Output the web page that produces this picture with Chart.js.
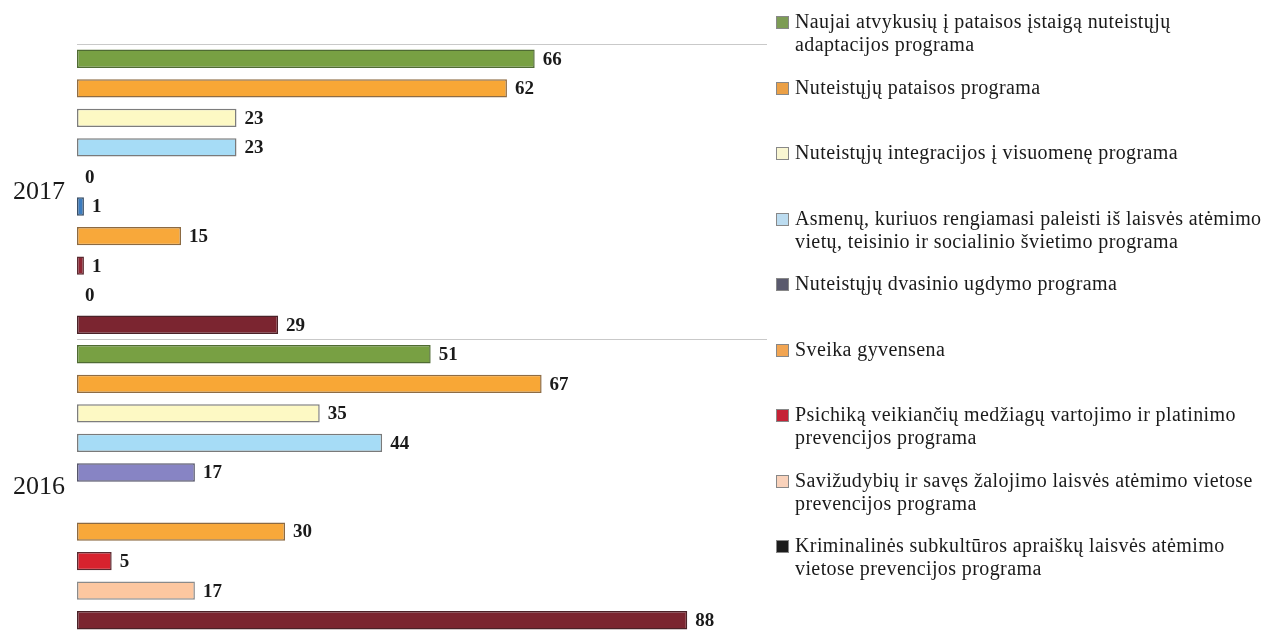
<!DOCTYPE html>
<html lang="lt">
<head>
<meta charset="UTF-8">
<title>Programos 2016–2017</title>
<script src="https://cdn.jsdelivr.net/npm/chart.js"></script>
<style>
  html, body { margin: 0; padding: 0; background: #fff; }
  .wrap { position: relative; width: 1270px; height: 635px; }
  .chart-box { position: absolute; left: 0; top: 0; width: 800px; height: 635px; }
  #legend { position: absolute; left: 775px; top: 0; width: 495px; margin: 0; padding: 0; list-style: none;
            font-family: 'Liberation Serif', 'Times New Roman', serif; font-size: 20px; letter-spacing: 0.4px; color: #1a1a1a; }
  #legend li { position: absolute; left: 0; width: 495px; line-height: 23px; padding-left: 20px; box-sizing: border-box; white-space: nowrap; }
  #legend li span.sw { position: absolute; left: 1px; top: 6px; width: 11px; height: 11px; border: 1px solid #888; }
</style>
</head>
<body>
<div class="wrap">
  <div class="chart-box"><canvas id="progChart"></canvas></div>
  <ul id="legend"></ul>
</div>

<script>
// years on the axis
const years = ['2017', '2016'];

// one value per year for each programme (null = nothing drawn)
const adaptacija   = [66, 51];
const pataisa      = [62, 67];
const integracija  = [23, 35];
const svietimas    = [23, 44];
const dvasinis     = [0, 17];
const kita         = [1, null];   // bar without a legend entry
const sveikata     = [15, 30];
const psichika     = [1, 5];
const savizudybes  = [0, 17];
const subkultura   = [29, 88];

// legend texts, split into lines as in the original (the unlabelled series has none)
const legendNames = [
  ['Naujai atvykusių į pataisos įstaigą nuteistųjų', 'adaptacijos programa'],
  ['Nuteistųjų pataisos programa'],
  ['Nuteistųjų integracijos į visuomenę programa'],
  ['Asmenų, kuriuos rengiamasi paleisti iš laisvės atėmimo', 'vietų, teisinio ir socialinio švietimo programa'],
  ['Nuteistųjų dvasinio ugdymo programa'],
  ['Sveika gyvensena'],
  ['Psichiką veikiančių medžiagų vartojimo ir platinimo', 'prevencijos programa'],
  ['Savižudybių ir savęs žalojimo laisvės atėmimo vietose', 'prevencijos programa'],
  ['Kriminalinės subkultūros apraiškų laisvės atėmimo', 'vietose prevencijos programa']
];
const legendColors = ['#7d9c55', '#eba046', '#f9f6d2', '#bcdcf0', '#5a5a6e', '#f2a552', '#c52236', '#f9d2bb', '#1c1c1c'];

const datasets = [
  { data: adaptacija,  backgroundColor: '#78a043', borderColor: '#4f6b33' },
  { data: pataisa,     backgroundColor: '#f8a736', borderColor: '#8e6c44' },
  { data: integracija, backgroundColor: '#fdf9c4', borderColor: '#7d7d7d' },
  { data: svietimas,   backgroundColor: '#a6dcf6', borderColor: '#7a7a7a' },
  { data: dvasinis,    backgroundColor: '#8784c4', borderColor: '#55556a' },
  { data: kita,        backgroundColor: '#3c7cbf', borderColor: '#3a4f66' },
  { data: sveikata,    backgroundColor: '#f8a83a', borderColor: '#8c6a42' },
  { data: psichika,    backgroundColor: ['#8e2634', '#d8222e'], borderColor: '#5a2a30' },
  { data: savizudybes, backgroundColor: '#fdc7a0', borderColor: '#8a8a8a' },
  { data: subkultura,  backgroundColor: '#7b2530', borderColor: '#4a2228' }
].map(d => Object.assign(d, {
  borderWidth: 1.5,
  borderSkipped: false,
  barPercentage: 0.62,
  categoryPercentage: 1
}));

// value labels right of each bar
const valueLabels = {
  id: 'valueLabels',
  afterDatasetsDraw(chart) {
    const ctx = chart.ctx;
    ctx.save();
    ctx.font = 'bold 19px "Liberation Serif", "Times New Roman", serif';
    ctx.fillStyle = '#1a1a1a';
    ctx.textBaseline = 'middle';
    chart.data.datasets.forEach((ds, i) => {
      chart.getDatasetMeta(i).data.forEach((bar, j) => {
        const v = ds.data[j];
        if (v === null || v === undefined) return;
        ctx.fillText(String(v), bar.x + 8, bar.y + 1);
      });
    });
    ctx.restore();
  }
};

Chart.defaults.font.family = '"Liberation Serif", "Times New Roman", serif';

new Chart(document.getElementById('progChart'), {
  type: 'bar',
  data: { labels: years, datasets: datasets },
  options: {
    indexAxis: 'y',
    responsive: true,
    maintainAspectRatio: false,
    animation: false,
    layout: { padding: { top: 44, right: 33, bottom: 0, left: 0 } },
    plugins: { legend: { display: false }, tooltip: { enabled: false } },
    scales: {
      x: { display: false, min: 0, max: 99.5 },
      y: {
        afterFit(scale) {
          scale.width = 77;
          scale.paddingTop = 0;
          scale.paddingBottom = 0;
        },
        border: { display: false },
        grid: { color: '#c9c9c9', lineWidth: 1, drawTicks: false, offset: true },
        ticks: { color: '#1a1a1a', padding: 12, font: { size: 26 } }
      }
    }
  },
  plugins: [valueLabels]
});

// html legend on the right
const legendEl = document.getElementById('legend');
legendNames.forEach((lines, i) => {
  const li = document.createElement('li');
  li.style.top = (10 + i * 65.5) + 'px';
  const sw = document.createElement('span');
  sw.className = 'sw';
  sw.style.background = legendColors[i];
  li.appendChild(sw);
  lines.forEach((line, k) => {
    if (k > 0) li.appendChild(document.createElement('br'));
    li.appendChild(document.createTextNode(line));
  });
  legendEl.appendChild(li);
});
</script>
</body>
</html>
